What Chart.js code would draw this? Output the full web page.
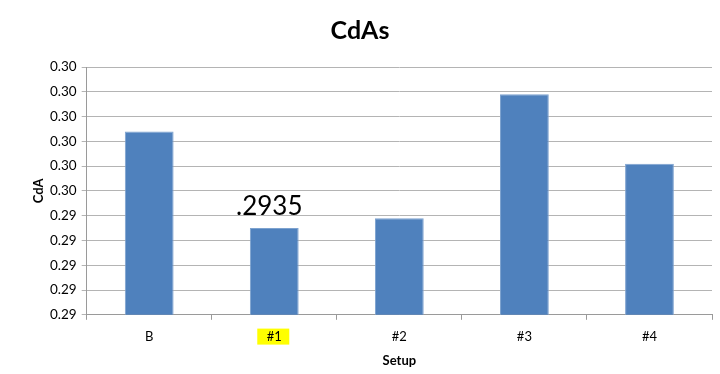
<!DOCTYPE html>
<html>
<head>
<meta charset="utf-8">
<script src="https://cdn.jsdelivr.net/npm/chart.js"></script>
<style>
    html, body { margin: 0; padding: 0; background: #fff; }
    #wrap { width: 720px; height: 374px; }
</style>
</head>
<body>
<div id="wrap"><canvas id="cdaChart" width="720" height="374"></canvas></div>
<script>
// 데이터
const setups = ['B', '#1', '#2', '#3', '#4'];
const cdaValues = [0.2974, 0.2935, 0.2939, 0.2989, 0.2961];
// Excel shows every tick rounded to 2 decimals (0.295 -> 0.30)
const yTickLabels = ['0.29', '0.29', '0.29', '0.29', '0.29', '0.30', '0.30', '0.30', '0.30', '0.30', '0.30'];
const noteIndex = 1;
const noteText = '.2935';
const highlightIndex = 1;

const FONT = 'Lato, "Open Sans", sans-serif';
const X_TICK_PAD = 9;
const X_FONT = 13;

// "#1" 라벨 노란 배경 + ".2935" 메모
const notesPlugin = {
    id: 'notes',
    beforeDraw(chart) {
        const x = chart.scales.x;
        const ctx = chart.ctx;
        const cx = x.getPixelForTick(highlightIndex);
        const cy = x.top + 5 + X_TICK_PAD + X_FONT * 0.6;
        ctx.save();
        ctx.fillStyle = '#ffff00';
        ctx.fillRect(cx - 17, cy - 8, 32, 16);
        ctx.restore();
    },
    afterDatasetsDraw(chart) {
        const bar = chart.getDatasetMeta(0).data[noteIndex];
        const ctx = chart.ctx;
        ctx.save();
        ctx.fillStyle = '#000';
        ctx.font = '26px ' + FONT;
        ctx.textAlign = 'center';
        ctx.textBaseline = 'bottom';
        ctx.fillText(noteText, bar.x - 5, bar.y - 8);
        ctx.restore();
    }
};

new Chart(document.getElementById('cdaChart'), {
    type: 'bar',
    data: {
        labels: setups,
        datasets: [{
            data: cdaValues,
            backgroundColor: '#4f81bd',
            borderColor: '#7da2cf',
            borderWidth: 1,
            barPercentage: 0.39,
            categoryPercentage: 1
        }]
    },
    options: {
        responsive: false,
        animation: false,
        layout: { padding: { left: 8, right: 8, top: 0, bottom: 5 } },
        plugins: {
            legend: { display: false },
            tooltip: { enabled: false },
            title: {
                display: true,
                text: 'CdAs',
                color: '#000',
                font: { family: FONT, size: 25, weight: 'bold' },
                padding: { top: 16, bottom: 21 }
            }
        },
        scales: {
            x: {
                grid: { drawOnChartArea: false, drawTicks: true, tickLength: 5, color: '#9a9a9a' },
                border: { color: '#9a9a9a' },
                ticks: { color: '#000', font: { family: FONT, size: X_FONT }, padding: X_TICK_PAD },
                title: {
                    display: true, text: 'Setup', color: '#000',
                    font: { family: FONT, size: 13, weight: 'bold' },
                    padding: { top: 0, bottom: 0 }
                }
            },
            y: {
                min: 0.29,
                max: 0.30,
                grid: { color: '#b4b4b4', lineWidth: 1, tickLength: 5 },
                border: { color: '#9a9a9a' },
                ticks: {
                    stepSize: 0.001,
                    color: '#000',
                    font: { family: FONT, size: 13.5 },
                    padding: 5,
                    callback: (v, i) => yTickLabels[i]
                },
                title: {
                    display: true, text: 'CdA', color: '#000',
                    font: { family: FONT, size: 13, weight: 'bold', lineHeight: 1 },
                    padding: { top: 24, bottom: 0 }
                }
            }
        }
    },
    plugins: [notesPlugin]
});
</script>
</body>
</html>
